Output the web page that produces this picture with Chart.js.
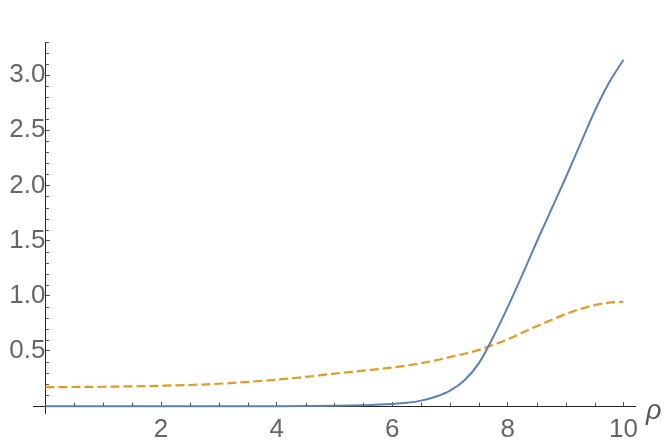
<!DOCTYPE html>
<html>
<head>
<meta charset="utf-8">
<script src="https://cdn.jsdelivr.net/npm/chart.js@4/dist/chart.umd.min.js"></script>
<style>
  html, body { margin: 0; padding: 0; background: #fff; }
  canvas { display: block; }
</style>
</head>
<body>
<canvas id="plot" width="664" height="446"></canvas>
<script>
// valores
const rho = [0, 1, 2, 3, 4, 4.5, 5, 5.5, 6, 6.25, 6.5, 6.75, 7, 7.25, 7.5, 7.75, 8, 8.25, 8.5, 8.75, 9, 9.25, 9.5, 9.75, 10];
const blueCurve = [0, 0, 0, 0, 0, 0.001, 0.003, 0.009, 0.02, 0.03, 0.05, 0.085, 0.14, 0.235, 0.39, 0.63, 0.9, 1.19, 1.49, 1.78, 2.07, 2.37, 2.67, 2.93, 3.14];
const orangeCurve = [0.172, 0.176, 0.185, 0.203, 0.24, 0.265, 0.295, 0.322, 0.35, 0.368, 0.39, 0.415, 0.445, 0.475, 0.51, 0.555, 0.605, 0.665, 0.725, 0.78, 0.835, 0.88, 0.915, 0.938, 0.946];

const xTicks = [2, 4, 6, 8, 10];
const xTickLabels = ['2', '4', '6', '8', '10'];
const yTicks = [0.5, 1, 1.5, 2, 2.5, 3];
const yTickLabels = ['0.5', '1.0', '1.5', '2.0', '2.5', '3.0'];

const axisColor = '#262626';
const tickColor = '#555555';
const labelFont = { family: "'Liberation Sans', Arial, sans-serif", size: 26 };

const toPoints = vals => rho.map((x, i) => ({ x: x, y: vals[i] }));

// marcas menores y etiqueta del eje
const extras = {
    id: 'extras',
    afterDraw(chart) {
        const { ctx, scales: { x, y } } = chart;
        const x0 = x.getPixelForValue(0);
        const y0 = y.getPixelForValue(0);
        ctx.save();
        ctx.strokeStyle = tickColor;
        ctx.lineWidth = 1;
        ctx.beginPath();
        for (let i = 1; i <= 33; i++) {
            if (i % 5 === 0) continue;
            const py = Math.round(y.getPixelForValue(i / 10)) + 0.5;
            ctx.moveTo(x0, py);
            ctx.lineTo(x0 + 3.5, py);
        }
        for (let i = 1; i <= 20; i++) {
            if (i % 4 === 0) continue;
            const px = Math.round(x.getPixelForValue(i / 2)) + 0.5;
            ctx.moveTo(px, y0);
            ctx.lineTo(px, y0 - 3.5);
        }
        ctx.stroke();
        ctx.fillStyle = '#555555';
        ctx.font = "italic 27px 'Liberation Sans', Arial, sans-serif";
        ctx.textBaseline = 'alphabetic';
        ctx.fillText('ρ', 646, 419);
        ctx.restore();
    }
};

new Chart(document.getElementById('plot'), {
    type: 'line',
    data: {
        datasets: [{
            data: toPoints(blueCurve),
            borderColor: '#5E81B5',
            borderWidth: 2,
            pointRadius: 0,
            cubicInterpolationMode: 'monotone',
            fill: false
        }, {
            data: toPoints(orangeCurve),
            borderColor: '#E19C24',
            borderWidth: 2.2,
            borderDash: [9, 4],
            pointRadius: 0,
            cubicInterpolationMode: 'monotone',
            fill: false
        }]
    },
    options: {
        responsive: false,
        animation: false,
        devicePixelRatio: 1,
        layout: { padding: { left: 33, right: 29, top: 42, bottom: 33 } },
        plugins: { legend: { display: false }, tooltip: { enabled: false } },
        scales: {
            x: {
                type: 'linear',
                position: { y: 0 },
                min: -0.215,
                max: 10.2,
                afterBuildTicks: s => { s.ticks = xTicks.map(v => ({ value: v })); },
                afterFit: s => { s.height = 0; },
                border: { display: true, color: axisColor, width: 1 },
                grid: { drawOnChartArea: false, drawTicks: true, tickLength: -5, color: tickColor },
                ticks: {
                    autoSkip: false,
                    maxRotation: 0,
                    padding: 13,
                    color: '#666666',
                    font: labelFont,
                    callback: (v, i) => xTickLabels[i]
                }
            },
            y: {
                type: 'linear',
                position: { x: 0 },
                min: -0.062,
                max: 3.3,
                afterBuildTicks: s => { s.ticks = yTicks.map(v => ({ value: v })); },
                afterFit: s => { s.width = 0; },
                border: { display: true, color: axisColor, width: 1 },
                grid: { drawOnChartArea: false, drawTicks: true, tickLength: -5, color: tickColor },
                ticks: {
                    autoSkip: false,
                    padding: 6,
                    color: '#666666',
                    font: labelFont,
                    callback: (v, i) => yTickLabels[i]
                }
            }
        }
    },
    plugins: [extras]
});
</script>
</body>
</html>
